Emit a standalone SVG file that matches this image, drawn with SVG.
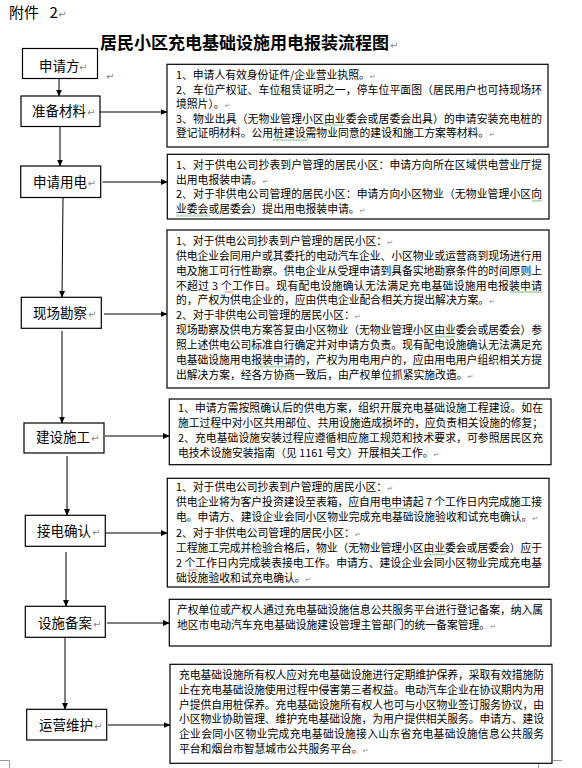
<svg xmlns="http://www.w3.org/2000/svg" width="582" height="768" viewBox="0 0 582 768">
<style>
.box{fill:#fff;stroke:#000;stroke-width:1.2}
.lbl{font-family:"Noto Sans CJK SC","Liberation Sans",sans-serif;font-size:13.5px;fill:#000}
.t{font-family:"Noto Sans CJK SC","Liberation Sans",sans-serif;font-size:10.8px;fill:#000}
.pm{font-family:"DejaVu Sans",sans-serif;fill:#888}
.pl{font-size:10px}
.ps{font-size:7px}
.con{stroke:#000;stroke-width:1;fill:none}
.crop{stroke:#999;stroke-width:1;fill:none}
</style>
<defs>
<marker id="ah" markerUnits="userSpaceOnUse" markerWidth="7" markerHeight="6" refX="6.5" refY="3" orient="auto"><path d="M0,0 L7,3 L0,6 z" fill="#000"/></marker>
<pattern id="wg" width="4" height="2" patternUnits="userSpaceOnUse"><path d="M0,1.6 L1,0.4 L2,1.6 L3,0.4 L4,1.6" stroke="#3a9a3a" stroke-width="0.7" fill="none"/></pattern>
<pattern id="wr" width="4" height="2" patternUnits="userSpaceOnUse"><path d="M0,1.6 L1,0.4 L2,1.6 L3,0.4 L4,1.6" stroke="#e03030" stroke-width="0.7" fill="none"/></pattern>
</defs>
<rect width="582" height="768" fill="#fff"/>

<g id="header">
<text x="9" y="17.5" style="font-family:'Noto Sans CJK SC','Liberation Sans',sans-serif;font-size:15px">附件<tspan x="49.5">2</tspan></text>
<text x="58" y="17.5" class="pm pl">↵</text>
<text x="100" y="49" style="font-family:'Noto Sans CJK SC','Liberation Sans',sans-serif;font-size:17px;font-weight:bold">居民小区充电基础设施用电报装流程图</text>
<text x="390" y="49" class="pm pl">↵</text>
<text x="106" y="80" class="pm pl">↵</text>
</g>

<g id="connectors">
<line class="con" x1="59" y1="78.5" x2="59" y2="96" marker-end="url(#ah)"/>
<line class="con" x1="60" y1="126.5" x2="60" y2="166" marker-end="url(#ah)"/>
<line class="con" x1="63" y1="197.5" x2="62" y2="297.3" marker-end="url(#ah)"/>
<line class="con" x1="62" y1="331" x2="62" y2="423" marker-end="url(#ah)"/>
<line class="con" x1="67" y1="456" x2="67" y2="515.3" marker-end="url(#ah)"/>
<line class="con" x1="66" y1="552" x2="66" y2="606.3" marker-end="url(#ah)"/>
<line class="con" x1="65" y1="637.5" x2="65" y2="709.3" marker-end="url(#ah)"/>
<line class="con" x1="100" y1="112" x2="167" y2="112" marker-end="url(#ah)"/>
<line class="con" x1="102.5" y1="182" x2="167.3" y2="182" marker-end="url(#ah)"/>
<line class="con" x1="104" y1="314" x2="167" y2="314" marker-end="url(#ah)"/>
<line class="con" x1="105" y1="436" x2="169.3" y2="436" marker-end="url(#ah)"/>
<line class="con" x1="106" y1="533" x2="167.3" y2="533" marker-end="url(#ah)"/>
<line class="con" x1="107" y1="623" x2="169.3" y2="623" marker-end="url(#ah)"/>
<line class="con" x1="108" y1="725" x2="170" y2="725" marker-end="url(#ah)"/>
</g>

<g id="n-applicant">
<rect class="box" x="22.5" y="48.5" width="75" height="30"/>
<text class="lbl" x="39" y="71">申请方</text><text class="pm pl" x="79" y="71">↵</text>
</g>
<g id="n-prepare">
<rect class="box" x="21" y="96" width="79" height="30.5"/>
<text class="lbl" x="32" y="116">准备材料</text><text class="pm pl" x="87" y="116">↵</text>
</g>
<g id="n-apply">
<rect class="box" x="20.7" y="166" width="80" height="31.5"/>
<text class="lbl" x="33" y="187">申请用电</text><text class="pm pl" x="87.5" y="187">↵</text>
</g>
<g id="n-survey">
<rect class="box" x="21.3" y="297.3" width="80" height="31"/>
<text class="lbl" x="33" y="318">现场勘察</text><text class="pm pl" x="88" y="318">↵</text>
</g>
<g id="n-build">
<rect class="box" x="24" y="423" width="80" height="30"/>
<text class="lbl" x="36" y="442">建设施工</text><text class="pm pl" x="91" y="442">↵</text>
</g>
<g id="n-connect">
<rect class="box" x="25.3" y="515.3" width="80" height="31"/>
<text class="lbl" x="37" y="536">接电确认</text><text class="pm pl" x="92" y="536">↵</text>
</g>
<g id="n-record">
<rect class="box" x="25.3" y="606.3" width="80" height="31"/>
<text class="lbl" x="38" y="628">设施备案</text><text class="pm pl" x="93" y="628">↵</text>
</g>
<g id="n-maintain">
<rect class="box" x="26.7" y="709.3" width="80" height="30.7"/>
<text class="lbl" x="39" y="730">运营维护</text><text class="pm pl" x="94" y="730">↵</text>
</g>

<g id="d-prepare">
<rect class="box" x="167" y="64.3" width="381" height="82.7"/>
<text class="t" x="176" y="79">1、申请人有效身份证件/企业营业执照。<tspan class="pm ps">↵</tspan></text>
<text class="t" x="176" y="93.6" textLength="366" lengthAdjust="spacing">2、车位产权证、车位租赁证明之一，停车位平面图（居民用户也可持现场环</text>
<text class="t" x="176" y="108.2">境照片）。<tspan class="pm ps">↵</tspan></text>
<text class="t" x="176" y="122.8" textLength="366" lengthAdjust="spacing">3、物业出具（无物业管理小区由业委会或居委会出具）的申请安装充电桩的</text>
<text class="t" x="176" y="137.4">登记证明材料。公用桩建设需物业同意的建设和施工方案等材料。<tspan class="pm ps">↵</tspan></text>
<rect x="323" y="124.3" width="20" height="2" fill="url(#wg)"/>
<rect x="273" y="138.9" width="34" height="2" fill="url(#wg)"/>
</g>

<g id="d-apply">
<rect class="box" x="167.3" y="154.3" width="381.7" height="64.7"/>
<text class="t" x="176" y="169" textLength="366" lengthAdjust="spacing">1、对于供电公司抄表到户管理的居民小区：申请方向所在区域供电营业厅提</text>
<text class="t" x="176" y="183.7">出用电报装申请。<tspan class="pm ps">↵</tspan></text>
<text class="t" x="176" y="198.4" textLength="366" lengthAdjust="spacing">2、对于非供电公司管理的居民小区：申请方向小区物业（无物业管理小区向</text>
<text class="t" x="176" y="213.1">业委会或居委会）提出用电报装申请。<tspan class="pm ps">↵</tspan></text>
<rect x="532" y="200" width="10" height="2" fill="url(#wg)"/>
<rect x="176" y="214.6" width="34" height="2" fill="url(#wg)"/>
</g>

<g id="d-survey">
<rect class="box" x="167" y="230" width="382" height="158"/>
<text class="t" x="176" y="244.7">1、对于供电公司抄表到户管理的居民小区：<tspan class="pm ps">↵</tspan></text>
<text class="t" x="176" y="259.6" textLength="366" lengthAdjust="spacing">供电企业会同用户或其委托的电动汽车企业、小区物业或运营商到现场进行用</text>
<text class="t" x="176" y="274.5" textLength="366" lengthAdjust="spacing">电及施工可行性勘察。供电企业从受理申请到具备实地勘察条件的时间原则上</text>
<text class="t" x="176" y="289.5" textLength="366" lengthAdjust="spacing">不超过 3 个工作日。现有配电设施确认无法满足充电基础设施用电报装申请</text>
<text class="t" x="176" y="304.4">的，产权为供电企业的，应由供电企业配合相关方提出解决方案。<tspan class="pm ps">↵</tspan></text>
<text class="t" x="176" y="319.3">2、对于非供电公司管理的居民小区：<tspan class="pm ps">↵</tspan></text>
<text class="t" x="176" y="334.2" textLength="366" lengthAdjust="spacing">现场勘察及供电方案答复由小区物业（无物业管理小区由业委会或居委会）参</text>
<text class="t" x="176" y="349.1" textLength="366" lengthAdjust="spacing">照上述供电公司标准自行确定并对申请方负责。现有配电设施确认无法满足充</text>
<text class="t" x="176" y="364.1" textLength="366" lengthAdjust="spacing">电基础设施用电报装申请的，产权为用电用户的，应由用电用户组织相关方提</text>
<text class="t" x="176" y="379">出解决方案，经各方协商一致后，由产权单位抓紧实施改造。<tspan class="pm ps">↵</tspan></text>
<rect x="225" y="291" width="8" height="2" fill="url(#wr)"/>
<rect x="510" y="291" width="32" height="2" fill="url(#wg)"/>
<rect x="435" y="335.7" width="20" height="2" fill="url(#wg)"/>
<rect x="258" y="365.6" width="35" height="2" fill="url(#wg)"/>
</g>

<g id="d-build">
<rect class="box" x="169.3" y="399" width="381.7" height="65.7"/>
<text class="t" x="178" y="412.3" textLength="365" lengthAdjust="spacing">1、申请方需按照确认后的供电方案，组织开展充电基础设施工程建设。如在</text>
<text class="t" x="178" y="427.2" textLength="365" lengthAdjust="spacing">施工过程中对小区共用部位、共用设施造成损坏的，应负责相关设施的修复；</text>
<text class="t" x="178" y="442.1" textLength="365" lengthAdjust="spacing">2、充电基础设施安装过程应遵循相应施工规范和技术要求，可参照居民区充</text>
<text class="t" x="178" y="457">电技术设施安装指南（见 1161 号文）开展相关工作。<tspan class="pm ps">↵</tspan></text>
</g>

<g id="d-connect">
<rect class="box" x="167.3" y="478.3" width="381.7" height="108.7"/>
<text class="t" x="176" y="490.7">1、对于供电公司抄表到户管理的居民小区：<tspan class="pm ps">↵</tspan></text>
<text class="t" x="176" y="506" textLength="366" lengthAdjust="spacing">供电企业将为客户投资建设至表箱，应自用电申请起 7 个工作日内完成施工接</text>
<text class="t" x="176" y="521.3">电。申请方、建设企业会同小区物业完成充电基础设施验收和试充电确认。<tspan class="pm ps">↵</tspan></text>
<text class="t" x="176" y="536.6">2、对于非供电公司管理的居民小区：<tspan class="pm ps">↵</tspan></text>
<text class="t" x="176" y="551.9" textLength="366" lengthAdjust="spacing">工程施工完成并检验合格后，物业（无物业管理小区由业委会或居委会）应于</text>
<text class="t" x="176" y="567.2" textLength="366" lengthAdjust="spacing">2 个工作日内完成装表接电工作。申请方、建设企业会同小区物业完成充电基</text>
<text class="t" x="176" y="582.3">础设施验收和试充电确认。<tspan class="pm ps">↵</tspan></text>
<rect x="383" y="507.6" width="27" height="2" fill="url(#wg)"/>
<rect x="425" y="553.4" width="22" height="2" fill="url(#wg)"/>
<rect x="188" y="568.8" width="10" height="2" fill="url(#wr)"/>
</g>

<g id="d-record">
<rect class="box" x="169.3" y="599.3" width="381.7" height="46.7"/>
<text class="t" x="177" y="614.2" textLength="366" lengthAdjust="spacing">产权单位或产权人通过充电基础设施信息公共服务平台进行登记备案，纳入属</text>
<text class="t" x="177" y="629.2">地区市电动汽车充电基础设施建设管理主管部门的统一备案管理。<tspan class="pm ps">↵</tspan></text>
</g>

<g id="d-maintain">
<rect class="box" x="170" y="664.3" width="382" height="99"/>
<text class="t" x="179" y="679" textLength="365" lengthAdjust="spacing">充电基础设施所有权人应对充电基础设施进行定期维护保养，采取有效措施防</text>
<text class="t" x="179" y="693.8" textLength="365" lengthAdjust="spacing">止在充电基础设施使用过程中侵害第三者权益。电动汽车企业在协议期内为用</text>
<text class="t" x="179" y="708.6" textLength="365" lengthAdjust="spacing">户提供自用桩保养。充电基础设施所有权人也可与小区物业签订服务协议，由</text>
<text class="t" x="179" y="723.4" textLength="365" lengthAdjust="spacing">小区物业协助管理、维护充电基础设施，为用户提供相关服务。申请方、建设</text>
<text class="t" x="179" y="738.2" textLength="365" lengthAdjust="spacing">企业会同小区物业完成充电基础设施接入山东省充电基础设施信息公共服务</text>
<text class="t" x="179" y="753">平台和烟台市智慧城市公共服务平台。<tspan class="pm ps">↵</tspan></text>
</g>

<g id="page-marks">
<path class="crop" d="M0,760.5 H9.5 V768"/>
<path class="crop" d="M553,760.5 H562 M538.5,764 V768"/>
</g>
</svg>
